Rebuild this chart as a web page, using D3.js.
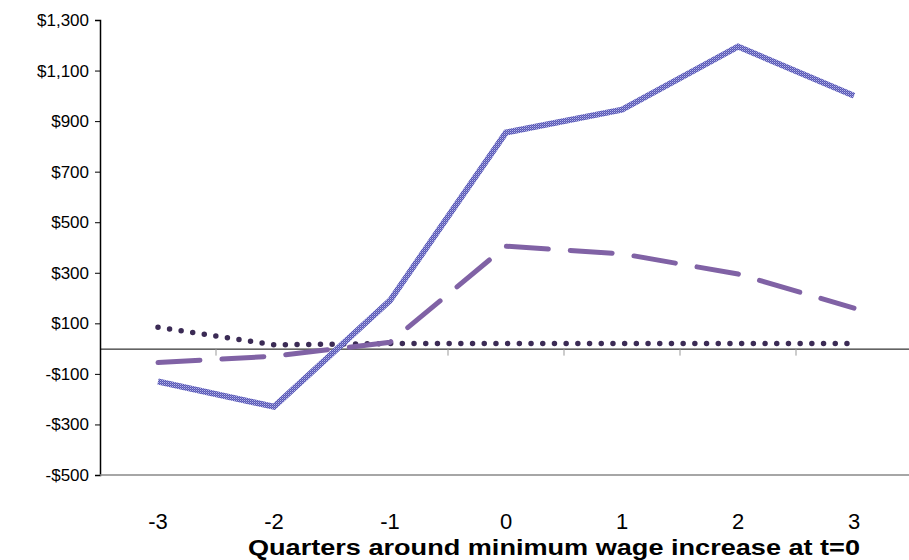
<!DOCTYPE html><html><head><meta charset="utf-8"><script src="https://cdn.jsdelivr.net/npm/d3@7"></script>
<style>body{margin:0;background:#fff}</style></head><body><svg id="c" width="909" height="560"></svg>
<script>
const quarters=["-3","-2","-1","0","1","2","3"];
const seriesSolid=[-130,-230,190,855,945,1195,1000];
const seriesDashed=[-55,-30,25,405,375,295,160];
const seriesDotted=[85,15,20,20,20,20,20];
const yTicks=[-500,-300,-100,100,300,500,700,900,1100,1300];
const svg=d3.select("#c");
const L=100,R=912,T=20,B=475;
const x=d3.scaleBand().domain(quarters).range([L,R]);
const y=d3.scaleLinear().domain([-500,1300]).range([B,T]);
const defs=svg.append("defs");
const p=defs.append("pattern").attr("id","hatch").attr("patternUnits","userSpaceOnUse").attr("width",2).attr("height",2);
p.append("rect").attr("width",2).attr("height",2).attr("fill","#5656b4");
p.append("rect").attr("width",1).attr("height",1).attr("fill","#b8b8ea");
p.append("rect").attr("x",1).attr("y",1).attr("width",1).attr("height",1).attr("fill","#8080cc");
const ya=svg.append("g").attr("transform",`translate(${L},0)`).call(d3.axisLeft(y).tickValues(yTicks).tickSize(5).tickPadding(6).tickFormat(d=>(d<0?"-$":"$")+d3.format(",")(Math.abs(d))));
ya.select(".domain").attr("stroke","#000").attr("stroke-width",1.5);
ya.selectAll("text").style("font-family","Liberation Sans, Arial").style("font-size","17px").attr("fill","#000");
svg.append("line").attr("x1",L).attr("x2",R).attr("y1",B).attr("y2",B).attr("stroke","#888").attr("stroke-width",1.5);
const za=svg.append("g").attr("transform",`translate(0,${y(0)})`).call(d3.axisBottom(x).tickValues([]).tickSizeOuter(0));
za.select(".domain").attr("stroke","#000");
quarters.slice(1).forEach(q=>svg.append("line").attr("x1",x(q)).attr("x2",x(q)).attr("y1",y(0)).attr("y2",y(0)+7).attr("stroke","#999"));
svg.selectAll(".xl").data(quarters).join("text").attr("x",d=>x(d)+x.bandwidth()/2).attr("y",529).attr("text-anchor","middle").style("font-family","Liberation Sans, Arial").style("font-size","22px").text(d=>d);
svg.append("text").attr("x",554).attr("y",555).attr("text-anchor","middle").style("font-family","Liberation Sans, Arial").style("font-weight","bold").style("font-size","22px").attr("textLength",612).attr("lengthAdjust","spacingAndGlyphs").text("Quarters around minimum wage increase at t=0");
const line=d3.line().x((d,i)=>x(quarters[i])+x.bandwidth()/2).y(d=>y(d));
svg.append("path").attr("d",line(seriesDotted)).attr("fill","none").attr("stroke","#3b2b55").attr("stroke-width",5.5).attr("stroke-linecap","round").attr("stroke-dasharray","0 11.7");
svg.append("path").attr("d",line(seriesDashed)).attr("fill","none").attr("stroke","#8062a5").attr("stroke-width",5).attr("stroke-linecap","round").attr("stroke-dasharray","42 22");
svg.append("path").attr("d",line(seriesSolid)).attr("fill","none").attr("stroke","url(#hatch)").attr("stroke-width",6).attr("stroke-linejoin","miter");
</script></body></html>
